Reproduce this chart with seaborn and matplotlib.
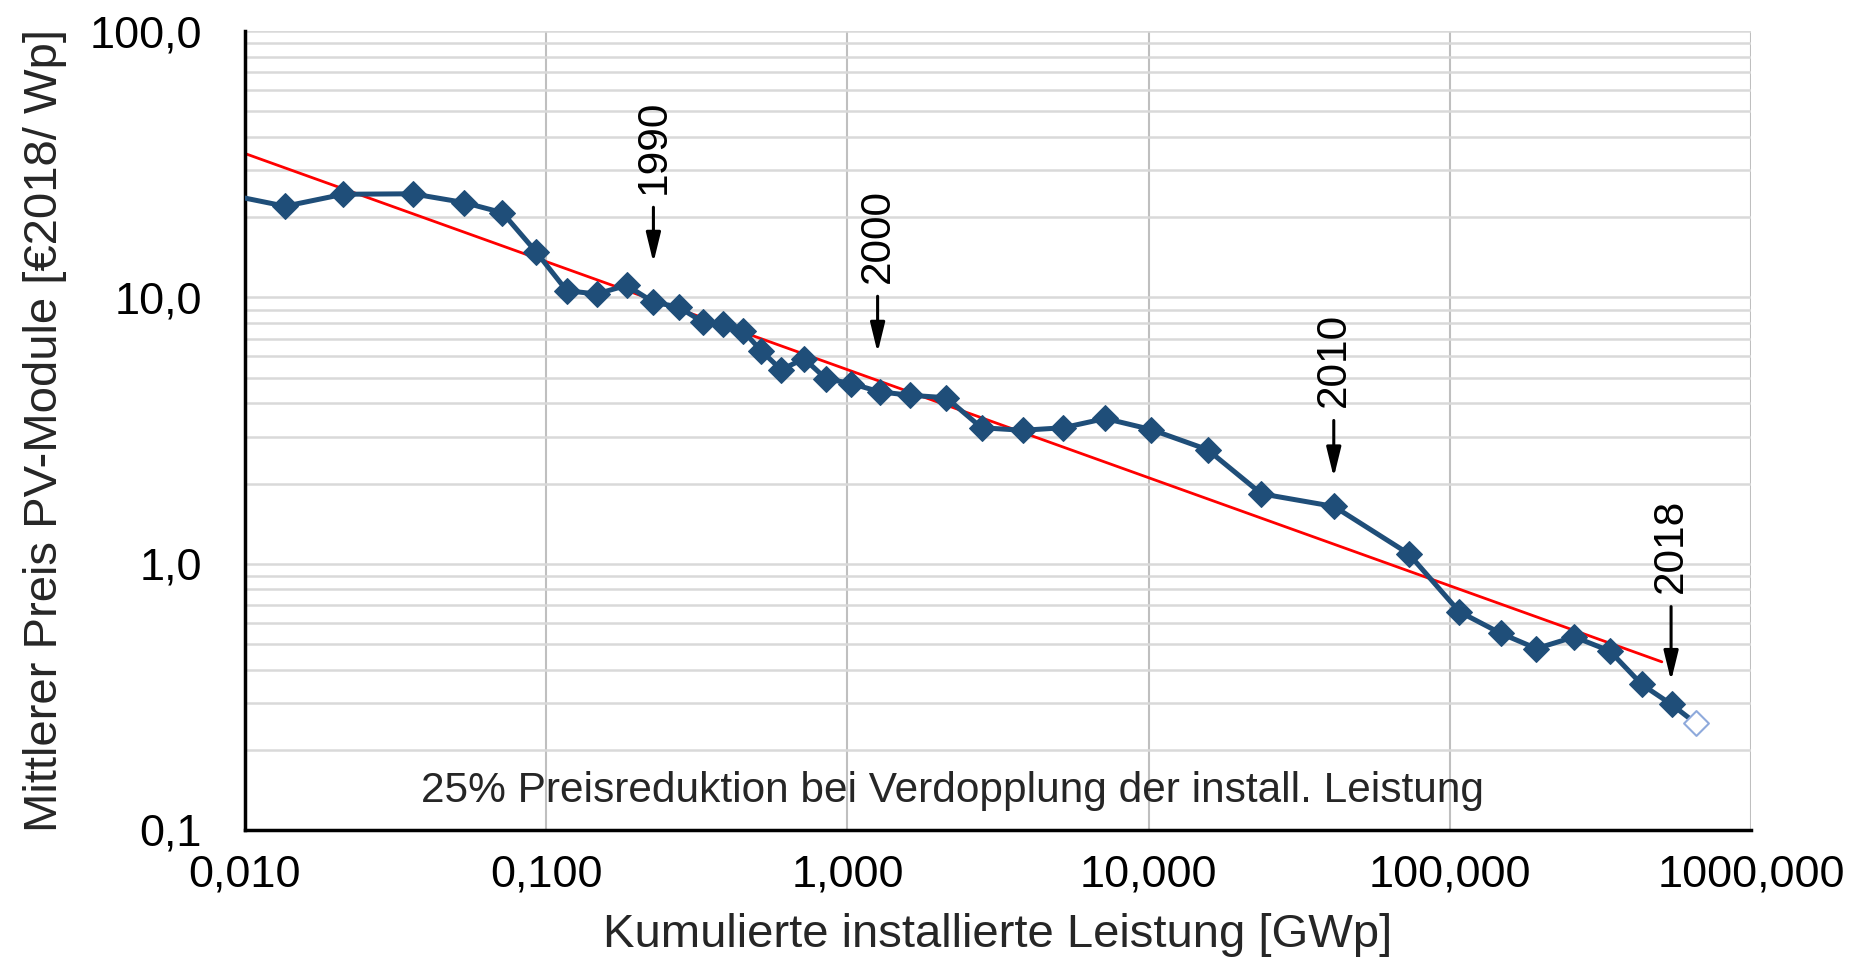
import numpy as np
import pandas as pd
import matplotlib
matplotlib.use("Agg")
import matplotlib.pyplot as plt
from matplotlib.ticker import FixedLocator, FixedFormatter, LogLocator, NullFormatter
import seaborn as sns

# kumulierte Leistung [GWp] und mittlerer Modulpreis [EUR2018/Wp]
leistung = [0.0085, 0.0136, 0.0212, 0.036, 0.0535, 0.0716, 0.0927, 0.117, 0.147,
            0.185, 0.227, 0.275, 0.332, 0.387, 0.450, 0.518, 0.603, 0.718, 0.849,
            1.03, 1.28, 1.62, 2.13, 2.79, 3.82, 5.21, 7.18, 10.2, 15.7, 23.7,
            41.3, 73.0, 107.6, 148.0, 194.0, 259.0, 340.0, 434.0, 545.0, 655.0]
preis = [24.5, 22.0, 24.4, 24.5, 22.7, 20.8, 14.8, 10.6, 10.3,
         11.1, 9.6, 9.2, 8.07, 7.95, 7.5, 6.3, 5.35, 5.89, 4.95,
         4.75, 4.42, 4.29, 4.2, 3.24, 3.17, 3.24, 3.51, 3.19, 2.68, 1.83,
         1.64, 1.09, 0.66, 0.547, 0.48, 0.531, 0.47, 0.352, 0.296, 0.252]

# Lernkurve (25% Preisreduktion je Verdopplung)
trend_x = [0.01, 506.0]
trend_y = [34.7, 0.428]

jahre = ["1990", "2000", "2010", "2018"]
jahre_x = [0.227, 1.26, 41.2, 543.0]
pfeil_spitze = [13.5, 6.2, 2.11, 0.363]
pfeil_ende = [21.8, 10.1, 3.45, 0.69]

y_ticks = [0.1, 1, 10, 100]
y_labels = ["0,1", "1,0", "10,0", "100,0"]
x_ticks = [0.01, 0.1, 1, 10, 100, 1000]
x_labels = ["0,010", "0,100", "1,000", "10,000", "100,000", "1000,000"]

sns.set_theme(style="white")
plt.rcParams['font.family'] = ['Liberation Sans', 'DejaVu Sans']

df = pd.DataFrame({"Leistung": leistung, "Preis": preis})
blau = "#1F4E79"

fig, ax = plt.subplots(figsize=(18.56, 9.73), dpi=100)
fig.subplots_adjust(left=0.132, right=0.9434, top=0.968, bottom=0.147)

ax.set_xscale("log")
ax.set_yscale("log")

sns.lineplot(data=df, x="Leistung", y="Preis", ax=ax, color=blau, linewidth=3.6,
             marker="D", markersize=13.5, markeredgecolor=blau,
             markevery=list(range(len(df) - 1)), zorder=3)
sns.scatterplot(x=[leistung[-1]], y=[preis[-1]], ax=ax, marker="D", s=160,
                facecolor="white", edgecolor="#8FAADC", linewidth=1.5, zorder=4)
sns.lineplot(x=trend_x, y=trend_y, ax=ax, color="red", linewidth=2.0, zorder=2)

for j, xj, tip, tail in zip(jahre, jahre_x, pfeil_spitze, pfeil_ende):
    ax.annotate("", xy=(xj, tip), xytext=(xj, tail),
                arrowprops=dict(arrowstyle="-|>,head_width=0.22,head_length=0.9",
                                color="black", lw=2.2, mutation_scale=20,
                                shrinkA=0, shrinkB=0))
    ax.text(xj, tail * 1.12, j, rotation=90, ha="center", va="bottom",
            fontsize=30.5, color="black")

ax.text(0.47, 0.049, "25% Preisreduktion bei Verdopplung der install. Leistung",
        transform=ax.transAxes, ha="center", va="center", fontsize=30.5)

ax.set_xlim(0.01, 1000)
ax.set_ylim(0.1, 100)

ax.xaxis.set_major_locator(FixedLocator(x_ticks))
ax.xaxis.set_major_formatter(FixedFormatter(x_labels))
ax.xaxis.set_minor_locator(LogLocator(base=10, subs=np.arange(2, 10)))
ax.xaxis.set_minor_formatter(NullFormatter())
ax.yaxis.set_major_locator(FixedLocator(y_ticks))
ax.yaxis.set_major_formatter(FixedFormatter(y_labels))
ax.yaxis.set_minor_locator(LogLocator(base=10, subs=np.arange(2, 10)))
ax.yaxis.set_minor_formatter(NullFormatter())

ax.grid(True, which="major", axis="x", color="#BFBFBF", linewidth=1.5)
ax.grid(True, which="both", axis="y", color="#D9D9D9", linewidth=1.8)
ax.set_axisbelow(True)

for s in ["top", "right"]:
    ax.spines[s].set_visible(False)
for s in ["left", "bottom"]:
    ax.spines[s].set_color("black")
    ax.spines[s].set_linewidth(2.5)

ax.tick_params(which="major", direction="inout", length=18, width=2.2,
               labelsize=32.5, color="black", labelcolor="black")
ax.tick_params(which="minor", direction="out", length=9, width=2.2, color="black")
ax.tick_params(axis="y", which="major", pad=22)
ax.tick_params(axis="x", which="major", pad=9)

ax.set_xlabel("Kumulierte installierte Leistung [GWp]", fontsize=34, labelpad=12)
ax.set_ylabel("Mittlerer Preis PV-Module [€2018/ Wp]", fontsize=34, labelpad=16)

fig.savefig("out.png", dpi=100)
